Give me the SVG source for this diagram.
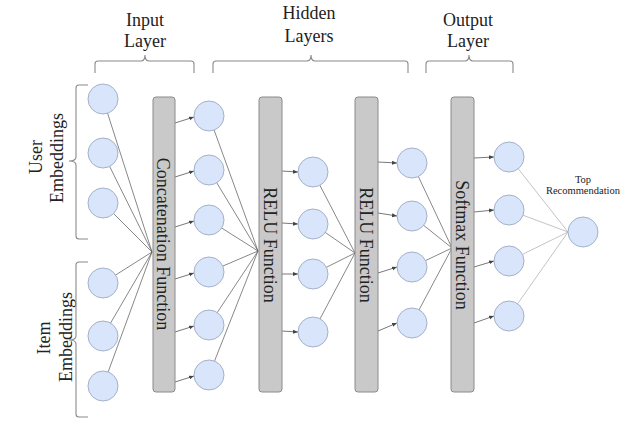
<svg xmlns="http://www.w3.org/2000/svg" width="641" height="423" viewBox="0 0 641 423">
<defs>
<marker id="ah" markerWidth="6" markerHeight="6" refX="5" refY="3" orient="auto" markerUnits="userSpaceOnUse">
<path d="M0,1 L5,3 L0,5 Z" fill="#444"/>
</marker>
<style>
.n{fill:#d9e5fa;stroke:#a3b1c8;stroke-width:1}
.bar{fill:#c9c9c9;stroke:#8a8a8a;stroke-width:1}
.br{fill:none;stroke:#8a8a8a;stroke-width:1.1}
.c{stroke:#555;stroke-width:0.7;fill:none}
.cl{stroke:#aaa;stroke-width:0.7;fill:none}
.a{stroke:#555;stroke-width:0.8;fill:none;marker-end:url(#ah)}
text{font-family:'Liberation Serif','DejaVu Serif',serif;fill:#222;text-anchor:middle}
.t{font-size:18px}
.s{font-size:10.5px}
</style>
</defs>
<rect width="641" height="423" fill="#ffffff"/>

<g id="labels">
<text class="t" x="145" y="26">Input</text>
<text class="t" x="145" y="47">Layer</text>
<text class="t" x="309" y="19">Hidden</text>
<text class="t" x="309" y="42">Layers</text>
<text class="t" x="468" y="26">Output</text>
<text class="t" x="468" y="47">Layer</text>
<text class="t" transform="translate(42,157) rotate(-90)">User</text>
<text class="t" transform="translate(63,158) rotate(-90)">Embeddings</text>
<text class="t" transform="translate(50,338) rotate(-90)">Item</text>
<text class="t" transform="translate(72,337) rotate(-90)">Embeddings</text>
<text class="s" x="583" y="183">Top</text>
<text class="s" x="583" y="194">Recommendation</text>
</g>

<g id="braces">
<path class="br" d="M95,73 V64 Q95,61 98,61 H141 Q145,61 145,55 Q145,61 149,61 H191 Q194,61 194,64 V73"/>
<path class="br" d="M213,73 V64 Q213,61 216,61 H307 Q311,61 311,55 Q311,61 315,61 H405 Q408,61 408,64 V73"/>
<path class="br" d="M426,73 V64 Q426,61 429,61 H465 Q469,61 469,55 Q469,61 473,61 H510 Q513,61 513,64 V73"/>
<path class="br" d="M88,85 H79 Q76,85 76,88 V157 Q76,161 69,161 Q76,161 76,165 V236 Q76,239 79,239 H88"/>
<path class="br" d="M88,262 H79 Q76,262 76,265 V336 Q76,340 69,340 Q76,340 76,344 V414 Q76,417 79,417 H88"/>
</g>

<g id="connectors">
<line class="c" x1="103" y1="99" x2="152" y2="252"/>
<line class="c" x1="103" y1="153" x2="152" y2="252"/>
<line class="c" x1="103" y1="203" x2="152" y2="252"/>
<line class="c" x1="103" y1="283" x2="152" y2="252"/>
<line class="c" x1="103" y1="336" x2="152" y2="252"/>
<line class="c" x1="103" y1="386" x2="152" y2="252"/>
<line class="a" x1="175" y1="123" x2="194" y2="117"/>
<line class="a" x1="175" y1="177" x2="194" y2="171"/>
<line class="a" x1="175" y1="227" x2="194" y2="221"/>
<line class="a" x1="175" y1="279" x2="194" y2="273"/>
<line class="a" x1="175" y1="332" x2="194" y2="326"/>
<line class="a" x1="175" y1="382" x2="194" y2="376"/>
<line class="c" x1="209" y1="116" x2="258" y2="251"/>
<line class="c" x1="209" y1="170" x2="258" y2="251"/>
<line class="c" x1="209" y1="220" x2="258" y2="251"/>
<line class="c" x1="209" y1="272" x2="258" y2="251"/>
<line class="c" x1="209" y1="325" x2="258" y2="251"/>
<line class="c" x1="209" y1="375" x2="258" y2="251"/>
<line class="a" x1="282" y1="171" x2="298" y2="172"/>
<line class="a" x1="282" y1="223" x2="298" y2="224"/>
<line class="a" x1="282" y1="274" x2="298" y2="274"/>
<line class="a" x1="282" y1="331" x2="298" y2="332"/>
<line class="c" x1="313" y1="172" x2="355" y2="253"/>
<line class="c" x1="313" y1="224" x2="355" y2="253"/>
<line class="c" x1="313" y1="274" x2="355" y2="253"/>
<line class="c" x1="313" y1="332" x2="355" y2="253"/>
<line class="a" x1="378" y1="162" x2="397" y2="163"/>
<line class="a" x1="378" y1="213" x2="397" y2="216"/>
<line class="a" x1="378" y1="273" x2="397" y2="267"/>
<line class="a" x1="378" y1="331" x2="397" y2="323"/>
<line class="c" x1="412" y1="163" x2="452" y2="248"/>
<line class="c" x1="412" y1="216" x2="452" y2="248"/>
<line class="c" x1="412" y1="267" x2="452" y2="248"/>
<line class="c" x1="412" y1="323" x2="452" y2="248"/>
<line class="a" x1="474" y1="158" x2="494" y2="157"/>
<line class="a" x1="474" y1="212" x2="494" y2="210"/>
<line class="a" x1="474" y1="267" x2="494" y2="261"/>
<line class="a" x1="474" y1="323" x2="494" y2="316"/>
<line class="cl" x1="509" y1="157" x2="568" y2="232"/>
<line class="cl" x1="509" y1="210" x2="568" y2="232"/>
<line class="cl" x1="509" y1="261" x2="568" y2="232"/>
<line class="cl" x1="509" y1="316" x2="568" y2="232"/>
</g>

<g id="bar-concat"><rect class="bar" x="153" y="97" width="22" height="295" rx="3"/><text class="t" transform="translate(164,244) rotate(90)" y="7">Concatenation Function</text></g>
<g id="bar-relu1"><rect class="bar" x="259" y="97" width="23" height="295" rx="3"/><text class="t" transform="translate(270.5,245) rotate(90)" y="7">RELU Function</text></g>
<g id="bar-relu2"><rect class="bar" x="355" y="97" width="23" height="295" rx="3"/><text class="t" transform="translate(366.5,245) rotate(90)" y="7">RELU Function</text></g>
<g id="bar-softmax"><rect class="bar" x="451" y="97" width="23" height="295" rx="3"/><text class="t" transform="translate(462.5,245) rotate(90)" y="7">Softmax Function</text></g>

<g id="user-1"><circle class="n" cx="103" cy="99" r="15"/></g>
<g id="user-2"><circle class="n" cx="103" cy="153" r="15"/></g>
<g id="user-3"><circle class="n" cx="103" cy="203" r="15"/></g>
<g id="item-1"><circle class="n" cx="103" cy="283" r="15"/></g>
<g id="item-2"><circle class="n" cx="103" cy="336" r="15"/></g>
<g id="item-3"><circle class="n" cx="103" cy="386" r="15"/></g>

<g id="c2-1"><circle class="n" cx="209" cy="116" r="15"/></g>
<g id="c2-2"><circle class="n" cx="209" cy="170" r="15"/></g>
<g id="c2-3"><circle class="n" cx="209" cy="220" r="15"/></g>
<g id="c2-4"><circle class="n" cx="209" cy="272" r="15"/></g>
<g id="c2-5"><circle class="n" cx="209" cy="325" r="15"/></g>
<g id="c2-6"><circle class="n" cx="209" cy="375" r="15"/></g>

<g id="h1-1"><circle class="n" cx="313" cy="172" r="15"/></g>
<g id="h1-2"><circle class="n" cx="313" cy="224" r="15"/></g>
<g id="h1-3"><circle class="n" cx="313" cy="274" r="15"/></g>
<g id="h1-4"><circle class="n" cx="313" cy="332" r="15"/></g>

<g id="h2-1"><circle class="n" cx="412" cy="163" r="15"/></g>
<g id="h2-2"><circle class="n" cx="412" cy="216" r="15"/></g>
<g id="h2-3"><circle class="n" cx="412" cy="267" r="15"/></g>
<g id="h2-4"><circle class="n" cx="412" cy="323" r="15"/></g>

<g id="o-1"><circle class="n" cx="509" cy="157" r="15"/></g>
<g id="o-2"><circle class="n" cx="509" cy="210" r="15"/></g>
<g id="o-3"><circle class="n" cx="509" cy="261" r="15"/></g>
<g id="o-4"><circle class="n" cx="509" cy="316" r="15"/></g>

<g id="top"><circle class="n" cx="583" cy="232" r="15"/></g>
</svg>
